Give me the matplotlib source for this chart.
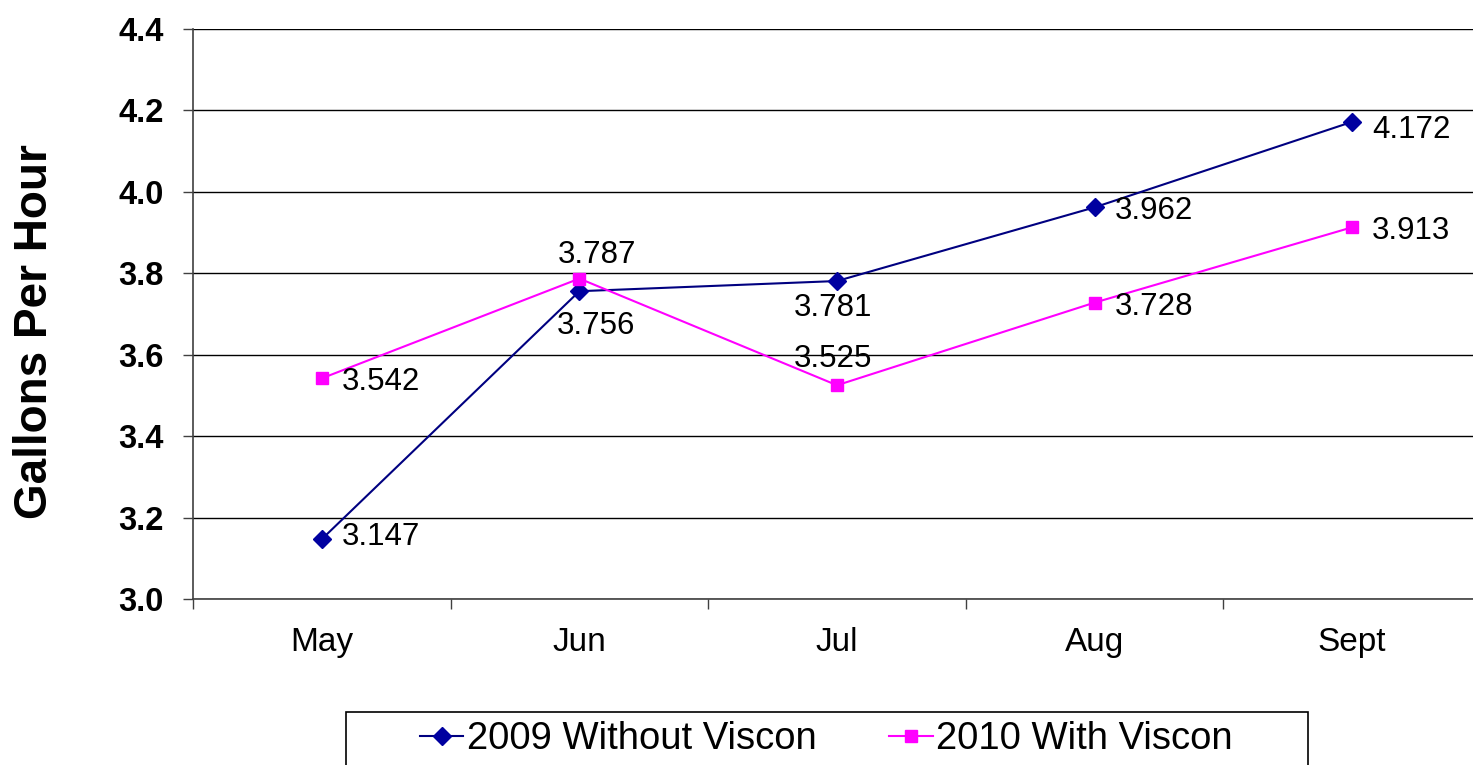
import matplotlib
matplotlib.use("Agg")
import matplotlib.pyplot as plt
from matplotlib.patches import Rectangle
from matplotlib.ticker import FixedLocator

plt.rcParams["font.family"] = ["Liberation Sans", "DejaVu Sans"]

months = ["May", "Jun", "Jul", "Aug", "Sept"]
gph_2009 = [3.147, 3.756, 3.781, 3.962, 4.172]
gph_2010 = [3.542, 3.787, 3.525, 3.728, 3.913]
label_2009 = "2009 Without Viscon"
label_2010 = "2010 With Viscon"

# data-label offsets in pixels (dx, dy, ha)
off_2009 = [(20, 2, "left"), (17, -35, "center"), (-4, -27, "center"), (20, -4, "left"), (20, -8, "left")]
off_2010 = [(20, -4, "left"), (18, 24, "center"), (-4, 26, "center"), (20, -4, "left"), (20, -4, "left")]

fig = plt.figure(figsize=(14.73, 7.65), dpi=100)
ax = fig.add_axes([193 / 1473, 1 - 599 / 765, 1288 / 1473, 570 / 765])

x = list(range(len(months)))
ax.plot(x, gph_2009, color="#000080", lw=1.5, marker="D", ms=9,
        mfc="#0000A0", mec="#0000A0", label=label_2009, zorder=3, clip_on=False)
ax.plot(x, gph_2010, color="#FF00FF", lw=1.5, marker="s", ms=8,
        mfc="#FF00FF", mec="#FF00FF", label=label_2010, zorder=3, clip_on=False)

for xs, ys, offs in [(x, gph_2009, off_2009), (x, gph_2010, off_2010)]:
    for xi, yi, (dx, dy, ha) in zip(xs, ys, offs):
        ax.annotate(f"{yi:.3f}", (xi, yi), xytext=(dx * 0.72, dy * 0.72),
                    textcoords="offset points", ha=ha, va="center",
                    fontsize=22.5, color="black", zorder=4)

ax.set_xlim(-0.5, len(months) - 0.5)
ax.set_ylim(3.0, 4.4)
ax.set_yticks([3.0 + 0.2 * i for i in range(8)])
ax.set_yticklabels([f"{3.0 + 0.2 * i:.1f}" for i in range(8)],
                   fontsize=23.5, fontweight="bold")
ax.tick_params(axis="y", length=7, width=1, direction="out", pad=14, color="#404040")

ax.set_xticks(x)
ax.set_xticklabels(months, fontsize=24)
ax.tick_params(axis="x", which="major", length=0, pad=20)
ax.xaxis.set_minor_locator(FixedLocator([i - 0.5 for i in range(len(months) + 1)]))
ax.tick_params(axis="x", which="minor", length=7, width=1, direction="out", color="#404040")

ax.grid(axis="y", color="black", lw=1)
ax.set_axisbelow(True)
for s in ["top", "right"]:
    ax.spines[s].set_visible(False)
ax.spines["left"].set_color("#404040")
ax.spines["bottom"].set_color("#404040")
ax.spines["left"].set_linewidth(1.2)
ax.spines["bottom"].set_linewidth(1.2)

fig.text(35 / 1473, 1 - 332 / 765, "Gallons Per Hour", rotation=90,
         ha="center", va="center", fontsize=33, fontweight="bold")

fig.patches.append(Rectangle((346 / 1473, -0.05), (1308 - 346) / 1473,
                             0.05 + (765 - 712) / 765, transform=fig.transFigure,
                             fill=False, edgecolor="black", lw=1.2))
fig.legend(loc="center", bbox_to_anchor=(826 / 1473, (765 - 739) / 765),
           ncol=2, frameon=False, fontsize=27.5, handlelength=1.15,
           handletextpad=0.08, columnspacing=1.9, borderpad=0)

fig.savefig("out.png", dpi=100)
